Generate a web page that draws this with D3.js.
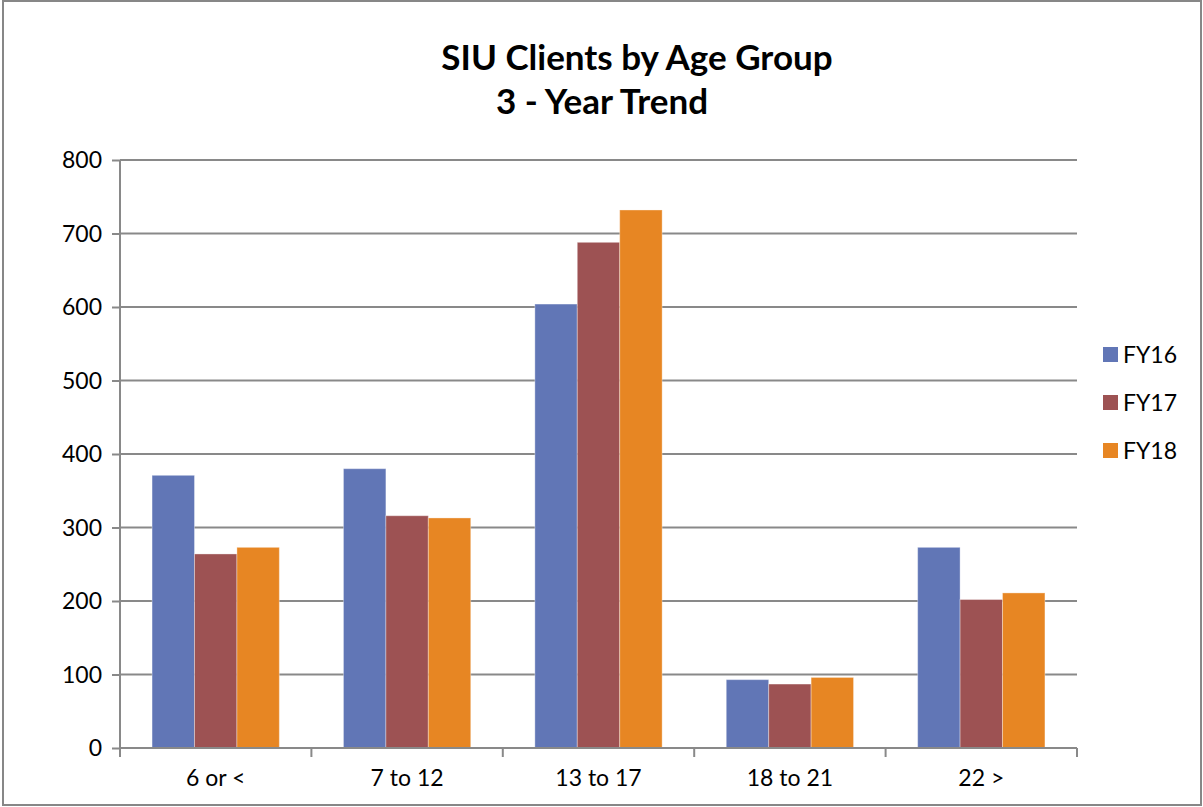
<!DOCTYPE html>
<html><head><meta charset="utf-8">
<script src="https://cdn.jsdelivr.net/npm/d3@7"></script>
<style>body{margin:0;background:#fff}svg{display:block}text{font-family:Lato,"Open Sans",sans-serif}</style>
</head><body><svg id="c" width="1203" height="807"></svg>
<script>
const categories=["6 or <","7 to 12","13 to 17","18 to 21","22 >"];
const seriesNames=["FY16","FY17","FY18"];
const fy16=[371,380,604,93,273];
const fy17=[264,316,688,87,202];
const fy18=[273,313,732,96,211];
const yTicks=[0,100,200,300,400,500,600,700,800];
const colors=["#6176B6","#9D5253","#E78623"];
const values=[fy16,fy17,fy18];

const svg=d3.select("#c");
svg.append("rect").attr("x",3).attr("y",1).attr("width",1198).attr("height",804).attr("fill","#fff").attr("stroke","#878787").attr("stroke-width",2);

const L=120,R=1077,T=160,B=748;
const x=d3.scaleBand().domain(categories).range([L,R]).paddingInner(0.335).paddingOuter(0.1675);
const xs=d3.scaleBand().domain(seriesNames).range([0,x.bandwidth()]);
const y=d3.scaleLinear().domain([0,800]).range([B,T]);

// gridlines
svg.append("g").selectAll("line").data(yTicks.slice(1)).join("line")
 .attr("x1",L).attr("x2",R).attr("y1",d=>y(d)).attr("y2",d=>y(d)).attr("stroke","#898989").attr("stroke-width",2);

// bars
seriesNames.forEach((s,i)=>{
 svg.append("g").selectAll("rect").data(categories).join("rect")
  .attr("x",c=>x(c)+xs(s)).attr("width",xs.bandwidth())
  .attr("y",(c,j)=>y(values[i][j])).attr("height",(c,j)=>B-y(values[i][j]))
  .attr("fill",colors[i]).attr("stroke","rgba(255,255,255,0.35)").attr("stroke-width",1);
});

// y axis
const ya=svg.append("g").attr("transform",`translate(${L},0)`).call(d3.axisLeft(y).tickValues(yTicks).tickSize(8).tickPadding(10));
ya.select(".domain").attr("stroke","#898989").attr("stroke-width",2).attr("d",`M0,${T}V${B}`);
ya.selectAll(".tick line").attr("stroke","#898989").attr("stroke-width",2);
ya.selectAll(".tick text").attr("font-size",23).attr("fill","#000").attr("font-family","Lato,'Open Sans',sans-serif").attr("dy","0.34em");

// x axis
const xa=svg.append("g").attr("transform",`translate(0,${B})`).call(d3.axisBottom(x).tickSize(0).tickPadding(22));
xa.select(".domain").attr("stroke","#898989").attr("stroke-width",2).attr("d",`M${L},0H${R}`);
xa.selectAll(".tick text").attr("font-size",23).attr("fill","#000").attr("font-family","Lato,'Open Sans',sans-serif");
svg.append("g").selectAll("line").data(d3.range(categories.length+1)).join("line")
 .attr("x1",i=>L+i*(R-L)/categories.length).attr("x2",i=>L+i*(R-L)/categories.length)
 .attr("y1",B).attr("y2",B+9).attr("stroke","#898989").attr("stroke-width",2);

// title
svg.append("text").attr("x",637).attr("y",70).attr("text-anchor","middle").attr("font-size",35).attr("font-weight","bold").text("SIU Clients by Age Group");
svg.append("text").attr("x",602).attr("y",114).attr("text-anchor","middle").attr("font-size",35).attr("font-weight","bold").text("3 - Year Trend");

// legend
const lg=svg.append("g").selectAll("g").data(seriesNames).join("g").attr("transform",(d,i)=>`translate(1103,${347+i*48})`);
lg.append("rect").attr("width",15).attr("height",15).attr("fill",(d,i)=>colors[i]);
lg.append("text").attr("x",20).attr("y",8).attr("dy","0.35em").attr("font-size",23).text(d=>d);
</script></body></html>
